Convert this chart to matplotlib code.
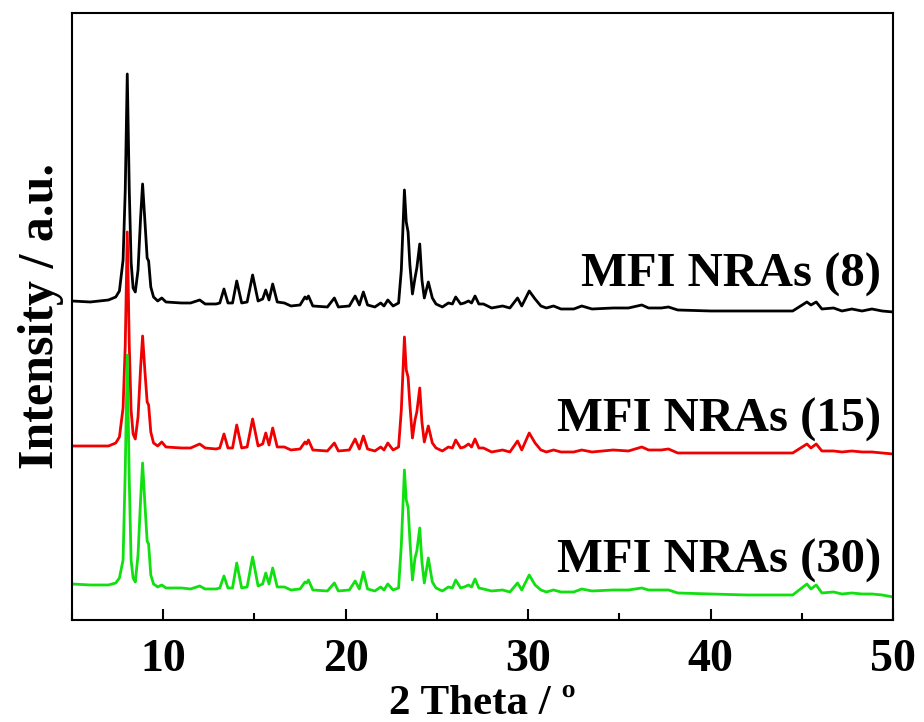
import matplotlib
matplotlib.use('Agg')
import matplotlib.pyplot as plt
from matplotlib.ticker import MultipleLocator

# 2-theta grid shared by the three patterns (deg)
TWO_THETA = [
    5.0, 6.0, 7.0, 7.4, 7.6, 7.8, 7.92, 8.03, 8.14, 8.24,
    8.35, 8.47, 8.62, 8.76, 8.87, 9.0, 9.12, 9.2, 9.32, 9.47,
    9.7, 9.92, 10.15, 11.0, 11.5, 12.0, 12.3, 12.9, 13.1, 13.33,
    13.55, 13.8, 14.03, 14.3, 14.6, 14.9, 15.2, 15.45, 15.62, 15.8,
    16.0, 16.25, 16.64, 17.0, 17.5, 17.77, 17.86, 17.96, 18.2, 19.0,
    19.38, 19.6, 20.2, 20.52, 20.75, 20.97, 21.2, 21.6, 21.92, 22.1,
    22.31, 22.6, 22.9, 23.05, 23.22, 23.32, 23.42, 23.52, 23.66, 23.8,
    23.9, 24.06, 24.18, 24.31, 24.53, 24.75, 24.95, 25.3, 25.63, 25.85,
    26.03, 26.3, 26.5, 26.73, 26.9, 27.09, 27.3, 27.55, 28.0, 28.6,
    29.0, 29.42, 29.65, 30.06, 30.38, 30.7, 31.0, 31.39, 31.8, 32.5,
    32.94, 33.5, 34.66, 35.5, 36.23, 36.6, 37.3, 37.69, 38.2, 40.0,
    42.0, 44.5, 45.28, 45.5, 45.79, 46.1, 46.74, 47.2, 47.74, 48.3,
    48.84, 49.4, 50.0,
]

# intensities (a.u.)
I_8 = [
    19, 18, 20, 23, 29, 60, 130, 246, 130, 58,
    32, 28, 50, 102, 136, 98, 62, 59, 33, 23,
    19, 22, 18, 17, 17, 20, 16, 16, 17, 31,
    17, 17, 39, 17, 18, 45, 19, 21, 30, 20,
    36, 18, 17, 14, 15, 23, 21, 24, 14, 13,
    22, 13, 14, 24, 15, 28, 15, 13, 17, 14,
    20, 14, 17, 50, 130, 98, 88, 55, 26, 42,
    52, 76, 40, 22, 38, 22, 16, 13, 17, 16,
    23, 16, 17, 19, 17, 24, 16, 16, 12, 14,
    12, 22, 14, 29, 21, 14, 12, 14, 11, 11,
    14, 11, 12, 12, 15, 12, 12, 13, 10, 9,
    9, 9, 18, 15, 18, 11, 12, 9, 11, 9,
    11, 9, 8,
]
I_15 = [
    19, 19, 19, 22, 28, 57, 120, 233, 120, 55,
    31, 26, 48, 97, 129, 93, 63, 60, 33, 22,
    19, 23, 18, 17, 17, 21, 17, 16, 17, 31,
    17, 17, 40, 17, 18, 46, 19, 21, 32, 20,
    37, 18, 18, 15, 16, 23, 21, 25, 15, 14,
    22, 14, 15, 26, 16, 29, 16, 14, 18, 15,
    22, 15, 18, 55, 128, 95, 88, 60, 27, 45,
    53, 77, 43, 23, 39, 22, 17, 14, 18, 17,
    25, 17, 18, 21, 18, 26, 17, 17, 13, 15,
    13, 24, 15, 32, 22, 15, 13, 15, 13, 13,
    15, 13, 15, 14, 18, 15, 15, 16, 12, 12,
    12, 12, 21, 17, 21, 14, 14, 13, 14, 13,
    13, 12, 11,
]
I_30 = [
    19, 18, 18, 20, 25, 43, 133, 248, 123, 43,
    25, 21, 48, 103, 140, 98, 62, 59, 28, 19,
    16, 18, 15, 15, 14, 17, 14, 14, 15, 27,
    15, 15, 40, 15, 16, 46, 17, 19, 30, 19,
    35, 16, 16, 13, 14, 21, 20, 23, 13, 12,
    20, 12, 13, 22, 14, 31, 14, 12, 16, 13,
    19, 13, 15, 58, 133, 103, 96, 63, 23, 45,
    52, 75, 41, 20, 45, 21, 15, 12, 16, 15,
    23, 15, 16, 18, 16, 24, 15, 14, 12, 13,
    11, 20, 13, 28, 18, 13, 11, 13, 11, 11,
    14, 12, 13, 13, 15, 13, 13, 13, 10, 9,
    8, 8, 19, 14, 18, 10, 11, 9, 10, 9,
    9, 8, 6,
]

SERIES = [I_8, I_15, I_30]
LABELS = ['MFI NRAs (8)', 'MFI NRAs (15)', 'MFI NRAs (30)']
OFFSETS = [300, 155, 17]
COLORS = ['black', '#f00000', '#10e010']
LABEL_Y = [333, 188, 47]

plt.rcParams['font.family'] = ['Liberation Serif', 'DejaVu Serif']
plt.rcParams['font.weight'] = 'bold'

fig = plt.figure(figsize=(9.24, 7.22), dpi=100)
ax = fig.add_axes([0.0779, 0.1413, 0.8886, 0.8407])

for inten, off, c in zip(SERIES, OFFSETS, COLORS):
    ax.plot(TWO_THETA, [v + off for v in inten], color=c, lw=2.0)

for lab, ly in zip(LABELS, LABEL_Y):
    ax.text(49.35, ly, lab, ha='right', va='baseline', fontsize=35,
            fontweight='bold')

ax.set_xlim(5, 50)
ax.set_ylim(0, 607)
ax.set_yticks([])
ax.xaxis.set_major_locator(MultipleLocator(10))
ax.xaxis.set_minor_locator(MultipleLocator(5))
ax.tick_params(axis='x', which='major', direction='in', length=8, width=1.5,
               labelsize=33, pad=14)
ax.tick_params(axis='x', which='minor', direction='in', length=5, width=1.5)
for lbl in ax.get_xticklabels():
    lbl.set_fontweight('bold')
for s in ax.spines.values():
    s.set_linewidth(1.5)

ax.set_xlabel('2 Theta / º', fontsize=31, fontweight='bold')
ax.xaxis.set_label_coords(0.5, -0.155)
ax.xaxis.label.set_va('baseline')
ax.set_ylabel('Intensity / a.u.', fontsize=36, fontweight='bold', labelpad=6)

fig.savefig('out.png', dpi=100)
